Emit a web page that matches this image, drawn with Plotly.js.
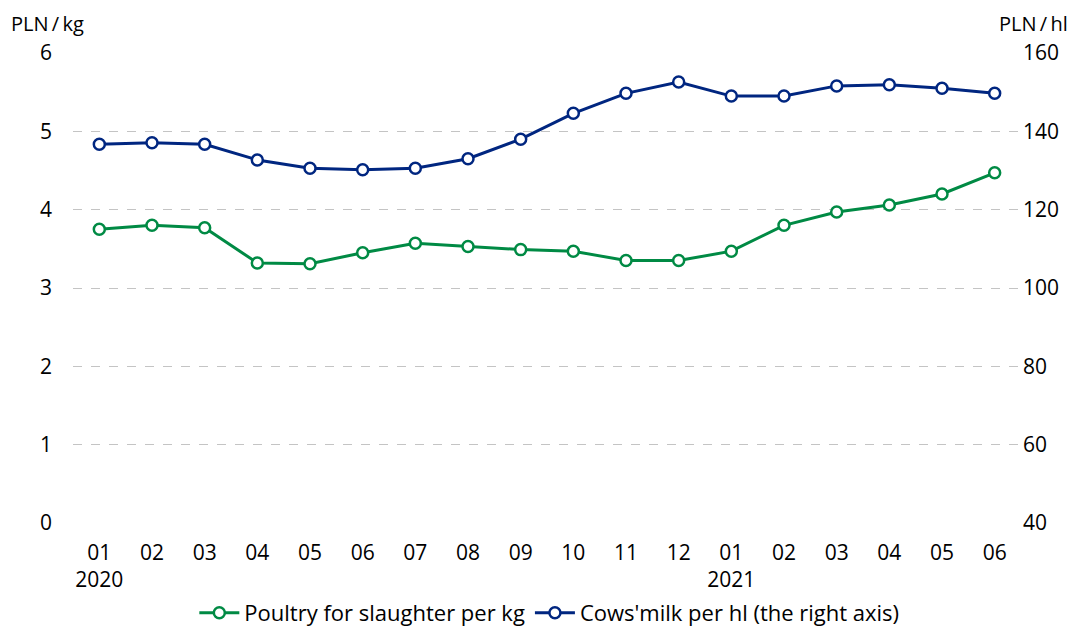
<!DOCTYPE html>
<html>
<head>
<meta charset="utf-8">
<script src="https://cdn.plot.ly/plotly-3.0.1.min.js"></script>
<style>html,body{margin:0;padding:0;background:#fff;}#chart{width:1075px;height:634px;}</style>
</head>
<body>
<div id="chart"></div>
<script>
var categories = ["2020-01","2020-02","2020-03","2020-04","2020-05","2020-06","2020-07","2020-08","2020-09","2020-10","2020-11","2020-12","2021-01","2021-02","2021-03","2021-04","2021-05","2021-06"];
var tickLabels = ["01<br>2020","02","03","04","05","06","07","08","09","10","11","12","01<br>2021","02","03","04","05","06"];
var poultry = [3.75,3.80,3.77,3.32,3.31,3.45,3.57,3.53,3.49,3.47,3.35,3.35,3.47,3.80,3.97,4.06,4.20,4.47];
var milk = [136.7,137.1,136.7,132.7,130.6,130.2,130.6,133.0,138.0,144.6,149.7,152.6,149.0,149.0,151.6,151.9,151.0,149.7];
var leftTicks = [0,1,2,3,4,5,6];
var rightTicks = [40,60,80,100,120,140,160];

var FONT = "Open Sans, Noto Sans, sans-serif";
var FS = 21;
var green = "#008a44", blue = "#002680";

var traces = [
  {x: categories, y: poultry, name: "Poultry for slaughter per kg", type: "scatter", mode: "lines+markers",
   line: {color: green, width: 3}, marker: {symbol: "circle", size: 11, color: "#ffffff", line: {color: green, width: 2.5}}, yaxis: "y"},
  {x: categories, y: milk, name: "Cows'milk per hl (the right axis)", type: "scatter", mode: "lines+markers",
   line: {color: blue, width: 3}, marker: {symbol: "circle", size: 11, color: "#ffffff", line: {color: blue, width: 2.5}}, yaxis: "y2"}
];

var layout = {
  width: 1075, height: 634,
  margin: {l: 73, r: 54, t: 53, b: 111},
  paper_bgcolor: "#fff", plot_bgcolor: "#fff",
  font: {family: FONT, size: FS, color: "#000"},
  showlegend: true,
  legend: {orientation: "h", xref: "container", yref: "container", x: 0.511, xanchor: "center", y: -0.022, yanchor: "bottom", font: {size: 22}, itemwidth: 40, tracegroupgap: 0},
  xaxis: {type: "category", tickvals: categories, ticktext: tickLabels, range: [-0.5, categories.length - 0.5], showgrid: false, zeroline: false, showline: false,
          ticks: "", tickfont: {size: FS}, ticklabelstandoff: 15, fixedrange: true, automargin: false},
  yaxis: {range: [0, 6], tickvals: leftTicks, showgrid: true, gridcolor: "#c4c4c4", griddash: "dash", gridwidth: 1,
          zeroline: false, showline: false, ticks: "", tickfont: {size: FS}, ticklabelstandoff: 20, automargin: false},
  yaxis2: {range: [40, 160], tickvals: rightTicks, overlaying: "y", side: "right", showgrid: false, zeroline: false,
           showline: false, ticks: "", tickfont: {size: FS}, ticklabelstandoff: 1, automargin: false},
  annotations: [
    {text: "PLN\u2009/\u2009kg", xref: "paper", yref: "paper", x: -0.068, y: 1.062, xanchor: "left", yanchor: "middle", showarrow: false, font: {size: 20}},
    {text: "PLN\u2009/\u2009hl", xref: "paper", yref: "paper", x: 1.052, y: 1.062, xanchor: "right", yanchor: "middle", showarrow: false, font: {size: 20}}
  ]
};

Plotly.newPlot("chart", traces, layout, {displayModeBar: false, staticPlot: true});
</script>
</body>
</html>
